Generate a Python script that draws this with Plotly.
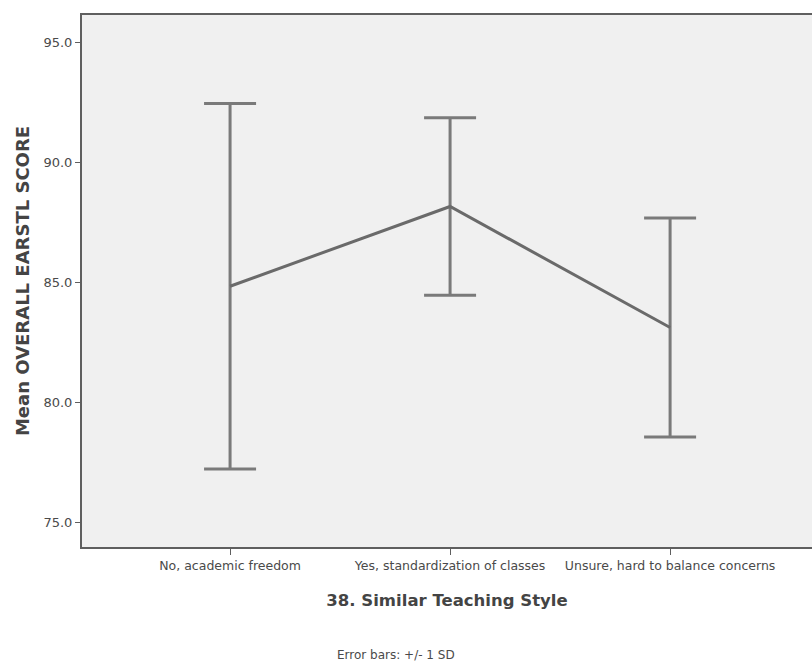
import plotly.graph_objects as go

# Group means and standard deviations of the overall score
categories = [
    "No, academic freedom",
    "Yes, standardization of classes",
    "Unsure, hard to balance concerns",
]
mean_scores = [84.84, 88.17, 83.12]
sd_scores = [7.63, 3.70, 4.57]

y_ticks = [75.0, 80.0, 85.0, 90.0, 95.0]
y_tick_labels = ["75.0", "80.0", "85.0", "90.0", "95.0"]

x_idx = list(range(len(categories)))

FONT = "DejaVu Sans, Arial, sans-serif"
AXIS_GREY = "#5f5f5f"
TEXT_GREY = "#4a4a4a"

fig = go.Figure()

# +/- 1 SD error bars
fig.add_trace(go.Scatter(
    x=x_idx,
    y=mean_scores,
    mode="markers",
    marker=dict(size=1, color="rgba(0,0,0,0)"),
    error_y=dict(
        type="data",
        array=sd_scores,
        symmetric=True,
        color="#7a7a7a",
        thickness=3,
        width=26,
    ),
    showlegend=False,
    hoverinfo="skip",
))

# Line joining the group means
fig.add_trace(go.Scatter(
    x=x_idx,
    y=mean_scores,
    mode="lines",
    line=dict(color="#6a6a6a", width=3),
    showlegend=False,
))

fig.update_layout(
    width=812,
    height=661,
    margin=dict(l=82, r=0, t=15, b=114),
    paper_bgcolor="white",
    plot_bgcolor="#f0f0f0",
    font=dict(family=FONT, color=TEXT_GREY),
    xaxis=dict(
        range=[-0.673, 2.645],
        tickmode="array",
        tickvals=x_idx,
        ticktext=categories,
        ticks="outside",
        ticklen=6,
        tickwidth=1,
        tickcolor=AXIS_GREY,
        tickfont=dict(size=12.5, color=TEXT_GREY),
        showgrid=False,
        zeroline=False,
        showline=True,
        linecolor=AXIS_GREY,
        linewidth=2,
        mirror=True,
        title=dict(
            text="<b>38. Similar Teaching Style</b>",
            font=dict(size=16.5, color="#444444"),
            standoff=22,
        ),
    ),
    yaxis=dict(
        range=[73.96, 96.16],
        tickmode="array",
        tickvals=y_ticks,
        ticktext=y_tick_labels,
        ticks="outside",
        ticklen=5,
        tickwidth=1,
        tickcolor=AXIS_GREY,
        tickfont=dict(size=13, color=TEXT_GREY),
        showgrid=False,
        zeroline=False,
        showline=True,
        linecolor=AXIS_GREY,
        linewidth=2,
        mirror=False,
        title=dict(
            text="<b>Mean OVERALL EARSTL SCORE</b>",
            font=dict(size=18, color="#444444"),
            standoff=9,
        ),
    ),
    annotations=[
        dict(
            text="Error bars: +/- 1 SD",
            xref="paper",
            yref="paper",
            x=0.43,
            y=-0.203,
            xanchor="center",
            yanchor="middle",
            showarrow=False,
            font=dict(size=12, color=TEXT_GREY),
        )
    ],
)

fig.write_html("out.html")
